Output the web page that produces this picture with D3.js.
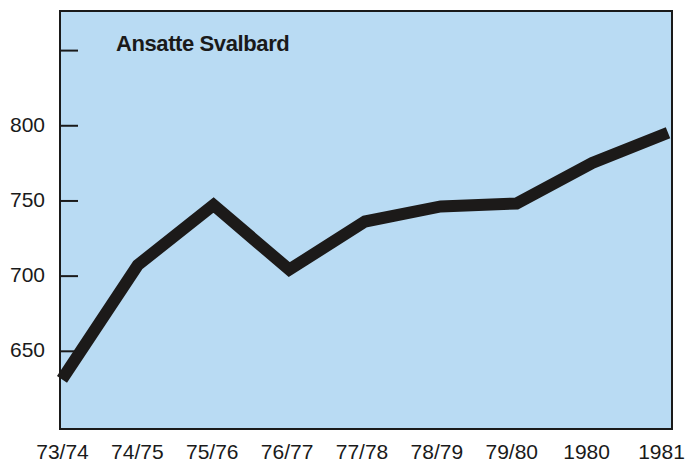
<!DOCTYPE html>
<html>
<head>
<meta charset="utf-8">
<script src="https://cdn.jsdelivr.net/npm/d3@7"></script>
<style>
  body { margin: 0; background: #fff; }
  svg { display: block; }
  .lbl { font-family: "Liberation Sans", Arial, sans-serif; font-size: 21px; fill: #1a1a1a; }
  .title { font-family: "Liberation Sans", Arial, sans-serif; font-size: 22px; font-weight: bold; fill: #1a1a1a; letter-spacing: -0.4px; }
</style>
</head>
<body>
<div id="chart"></div>
<script>
// data
const seasons = ["73/74", "74/75", "75/76", "76/77", "77/78", "78/79", "79/80", "1980", "1981"];
const employees = [631, 707, 747, 704, 736, 746, 748, 775, 795];
const yTicks = [650, 700, 750, 800, 850];
const yTickLabels = ["650", "700", "750", "800", ""];
const title = "Ansatte Svalbard";

const width = 686, height = 464;
const frame = {left: 60, top: 11, right: 672, bottom: 429};

const svg = d3.select("#chart").append("svg")
    .attr("width", width)
    .attr("height", height);

const x = d3.scalePoint().domain(seasons).range([62, 668]);
// labels sit a bit tighter than the points so the last one stays on the page
const xLabels = d3.scalePoint().domain(seasons).range([62, 661]);
const y = d3.scaleLinear().domain([598, 876]).range([frame.bottom, frame.top]);

// plot area
svg.append("rect")
    .attr("x", frame.left)
    .attr("y", frame.top)
    .attr("width", frame.right - frame.left)
    .attr("height", frame.bottom - frame.top)
    .attr("fill", "#b9dbf3")
    .attr("stroke", "#1a1a1a")
    .attr("stroke-width", 2);

// y ticks, drawn inward
const yAxis = svg.append("g")
    .attr("transform", "translate(" + frame.left + ",0)")
    .call(d3.axisRight(y).tickValues(yTicks).tickSize(18)
      .tickFormat((d, i) => yTickLabels[i]));
yAxis.attr("font-size", null).attr("font-family", null);
yAxis.select(".domain").remove();
yAxis.selectAll(".tick line").attr("stroke", "#1a1a1a").attr("stroke-width", 2);
yAxis.selectAll(".tick text")
    .attr("class", "lbl")
    .attr("x", -15)
    .attr("dy", "0.28em")
    .attr("text-anchor", "end")
    .attr("fill", null);

// x labels
const xAxis = svg.append("g")
    .attr("transform", "translate(0," + frame.bottom + ")")
    .call(d3.axisBottom(xLabels).tickSize(0).tickPadding(0));
xAxis.attr("font-size", null).attr("font-family", null);
xAxis.select(".domain").remove();
xAxis.selectAll(".tick text")
    .attr("class", "lbl")
    .attr("y", 30)
    .attr("dy", null)
    .attr("fill", null);

// the series line
const line = d3.line()
    .x((d, i) => x(seasons[i]))
    .y(d => y(d));

svg.append("path")
    .datum(employees)
    .attr("d", line)
    .attr("fill", "none")
    .attr("stroke", "#1c1a19")
    .attr("stroke-width", 12)
    .attr("stroke-linejoin", "miter");

svg.append("text")
    .attr("class", "title")
    .attr("x", 116)
    .attr("y", 51)
    .text(title);
</script>
</body>
</html>
